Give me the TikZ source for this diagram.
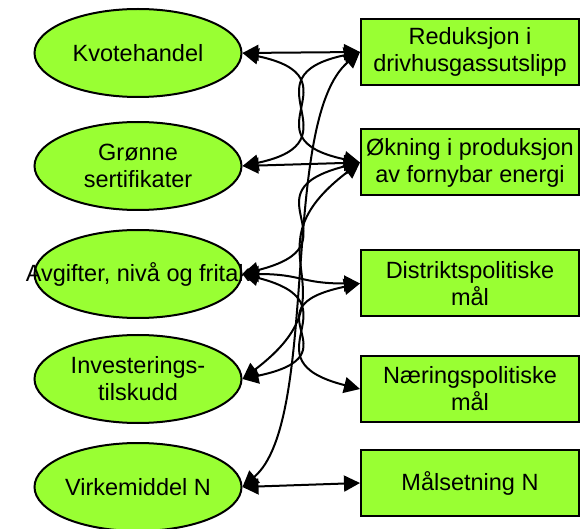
\documentclass[tikz,border=0pt]{standalone}
\usepackage{fontspec}
\setmainfont{Liberation Sans}
\usetikzlibrary{shapes.geometric,arrows.meta}
\definecolor{lime}{RGB}{153,255,51}
\begin{document}
\begin{tikzpicture}[x=1pt,y=-1pt,
  goal/.style={ellipse, draw=black, line width=2pt, fill=lime, minimum width=207pt, minimum height=88pt, inner sep=0pt, align=center, font=\fontsize{23.5}{27}\selectfont},
  aim/.style={rectangle, draw=black, line width=2pt, fill=lime, minimum width=218pt, minimum height=66pt, inner sep=0pt, align=center, font=\fontsize{23.5}{27}\selectfont},
  link/.style={line width=2pt, {Triangle[length=16pt,width=16pt]}-{Triangle[length=16pt,width=16pt]}}]
\useasboundingbox (0,0) rectangle (581,529);
\node[goal] (kv)  at (138,53)  {Kvotehandel};
\node[goal] (gr)  at (138,166) {Grønne\\sertifikater};
\node[goal] (av)  at (138,274) {\makebox[0pt][c]{Avgifter, nivå og fritak}};
\node[goal] (inv) at (138,379) {Investerings-\\tilskudd};
\node[goal] (vm)  at (138,487) {Virkemiddel N};
\node[aim] (red) at (470,52)    {\raisebox{-2pt}{\shortstack{Reduksjon i\\[2pt]drivhusgassutslipp}}};
\node[aim] (okn) at (470,162.5) {Økning i produksjon\\av fornybar energi};
\node[aim] (dis) at (470,283.5) {Distriktspolitiske\\mål};
\node[aim] (nar) at (470,389)   {Næringspolitiske\\mål};
\node[aim] (mal) at (470,483)   {Målsetning N};
\draw[link] (kv.east) -- (red.west);
\draw[link] (kv.east) .. controls +(119,25) and +(-119,-25) .. (okn.west);
\draw[link] (gr.east) .. controls +(119,-25) and +(-119,25) .. (red.west);
\draw[link] (gr.east) -- (okn.west);
\draw[link] (av.east) .. controls +(119,-30) and +(-119,30) .. (okn.west);
\draw[link] (inv.east) .. controls +(119,-90) and +(-119,90) .. (okn.west);
\draw[link] (av.east) .. controls +(60,0) and +(-60,0) .. (dis.west);
\draw[link] (av.east) .. controls +(119,30) and +(-119,-30) .. (nar.west);
\draw[link] (inv.east) .. controls +(119,-25) and +(-119,25) .. (dis.west);
\draw[link] (vm.east) .. controls +(78,-67) and +(-81,68) .. (red.west);
\draw[link] (vm.east) -- (mal.west);
\end{tikzpicture}
\end{document}
